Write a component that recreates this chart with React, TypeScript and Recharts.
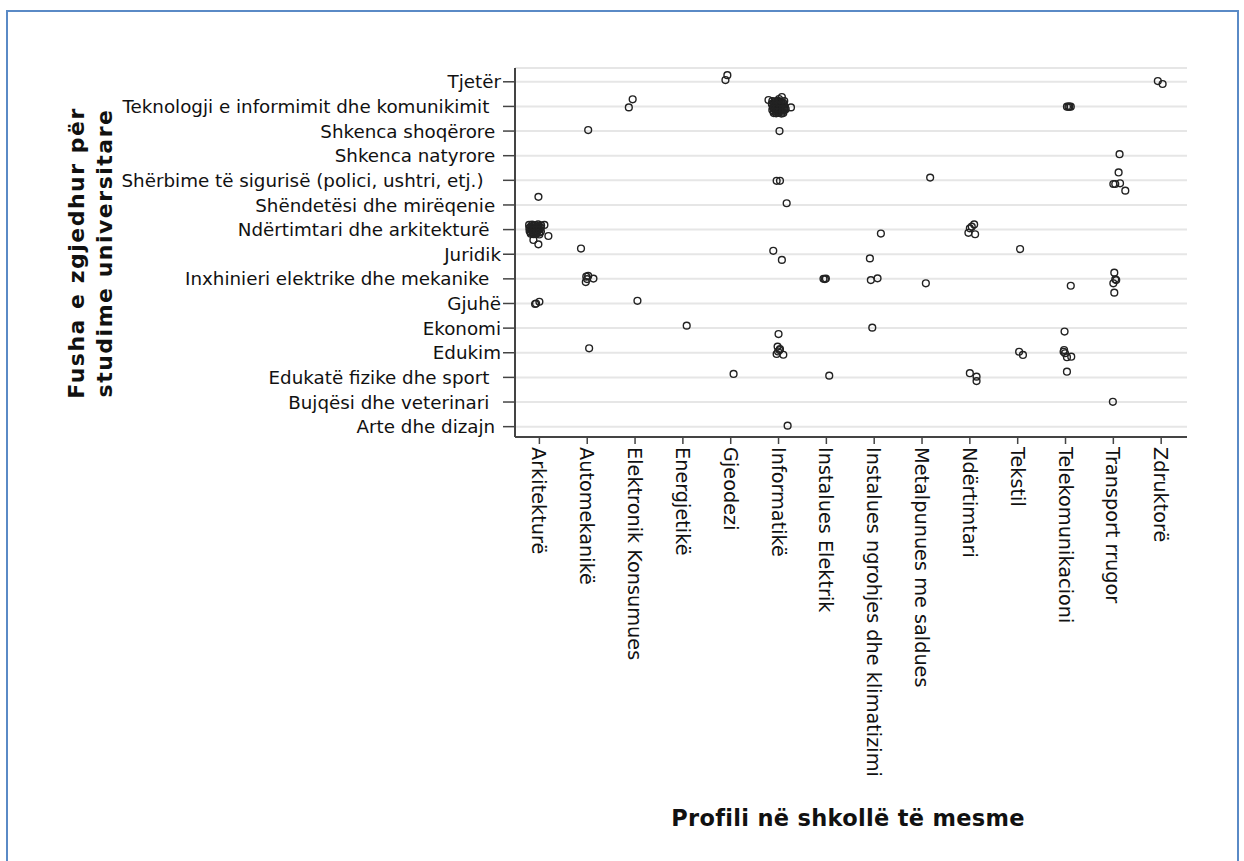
import React from "react";
import { ScatterChart, Scatter, XAxis, YAxis, CartesianGrid } from "recharts";

// Categories
const profiles = [
  "Arkitekturë",
  "Automekanikë",
  "Elektronik Konsumues",
  "Energjetikë",
  "Gjeodezi",
  "Informatikë",
  "Instalues Elektrik",
  "Instalues ngrohjes dhe klimatizimi",
  "Metalpunues me saldues",
  "Ndërtimtari",
  "Tekstil",
  "Telekomunikacioni",
  "Transport rrugor",
  "Zdruktorë",
];

const fields = [
  "Arte dhe dizajn ",
  "Bujqësi dhe veterinari  ",
  "Edukatë fizike dhe sport  ",
  "Edukim",
  "Ekonomi",
  "Gjuhë",
  "Inxhinieri elektrike dhe mekanike  ",
  "Juridik",
  "Ndërtimtari dhe arkitekturë  ",
  "Shëndetësi dhe mirëqenie ",
  "Shërbime të sigurisë (polici, ushtri, etj.)   ",
  "Shkenca natyrore ",
  "Shkenca shoqërore ",
  "Teknologji e informimit dhe komunikimit  ",
  "Tjetër",
];

const xTitle = "Profili në shkollë të mesme";
const yTitleLines = ["Fusha e zgjedhur për", "studime universitare"];

// Jittered observations: [profile value, field value]
const arkitekture = [
  [-0.02, 9.33],
  [-0.215, 8.19], [-0.152, 8.2], [-0.09, 8.18], [-0.027, 8.21], [0.036, 8.17],
  [-0.21, 8.06], [-0.15, 8.05], [-0.088, 8.07], [-0.03, 8.04], [0.03, 8.08],
  [-0.205, 7.94], [-0.155, 7.95], [-0.092, 7.93], [-0.025, 7.96], [0.032, 7.92],
  [-0.18, 7.83], [-0.12, 7.81], [-0.06, 7.84], [0.0, 7.8],
  [-0.184, 8.12], [-0.121, 8.13], [-0.059, 8.11], [0.004, 8.12],
  [-0.184, 8.0], [-0.121, 7.99], [-0.059, 8.01], [0.004, 8.0],
  [-0.184, 7.88], [-0.121, 7.87], [-0.059, 7.89], [0.004, 7.88],
  [0.105, 8.19], [0.188, 7.74], [-0.021, 7.4], [-0.125, 7.58],
  [-0.09, 4.98], [-0.07, 5.0], [0.0, 5.07],
];
const automekanike = [
  [1.02, 12.04], [0.87, 7.23],
  [0.98, 6.09], [1.02, 6.12], [1.13, 6.01], [0.97, 5.87], [0.997, 5.99],
  [1.04, 3.18],
];
const elektronikKonsumues = [[1.95, 13.29], [1.87, 12.96], [2.05, 5.11]];
const energjetike = [[3.08, 4.1]];
const gjeodezi = [[3.93, 14.27], [3.89, 14.07], [4.06, 2.14]];
const informatike = [
  [4.79, 13.26], [5.07, 13.38], [5.26, 12.96],
  [4.87, 13.22], [4.93, 13.21], [4.99, 13.23], [5.05, 13.2], [5.12, 13.22],
  [4.86, 13.1], [4.94, 13.11], [4.98, 13.09], [5.06, 13.12], [5.11, 13.1],
  [4.88, 12.97], [4.92, 12.98], [5.0, 12.96], [5.04, 12.99], [5.13, 12.97],
  [4.87, 12.85], [4.94, 12.86], [4.99, 12.84], [5.05, 12.87], [5.12, 12.85],
  [4.9, 12.73], [4.95, 12.72], [5.0, 12.74], [5.06, 12.71], [5.1, 12.73],
  [4.9, 13.16], [4.96, 13.17], [5.02, 13.15], [5.09, 13.16],
  [4.9, 13.04], [4.96, 13.03], [5.02, 13.05], [5.09, 13.04],
  [4.9, 12.91], [4.96, 12.92], [5.02, 12.9], [5.09, 12.91],
  [4.9, 12.79], [4.96, 12.78], [5.02, 12.8], [5.09, 12.79],
  [5.15, 12.89], [5.01, 13.3],
  [5.02, 12.0],
  [4.96, 9.98], [5.03, 9.98],
  [5.17, 9.07],
  [4.89, 7.14], [5.07, 6.77],
  [5.0, 3.76],
  [4.98, 3.25], [5.03, 3.15], [4.96, 2.95], [5.1, 2.92], [5.02, 3.11], [4.99, 3.05],
  [5.19, 0.04],
];
const instaluesElektrik = [[5.94, 6.0], [5.97, 5.99], [5.99, 6.01], [6.06, 2.07]];
const instaluesNgrohjes = [[7.14, 7.84], [6.91, 6.83], [6.93, 5.95], [7.07, 6.02], [6.96, 4.02]];
const metalpunues = [[8.17, 10.11], [8.08, 5.82]];
const ndertimtari = [
  [9.09, 8.21], [9.0, 8.05], [8.97, 7.87], [9.11, 7.81], [9.04, 8.12],
  [9.0, 2.17], [9.14, 2.03], [9.14, 1.85],
];
const tekstil = [[10.05, 7.21], [10.03, 3.04], [10.11, 2.91]];
const telekomunikacioni = [
  [11.03, 12.99], [11.06, 12.99], [11.08, 12.99], [11.11, 12.99],
  [11.11, 5.72], [10.98, 3.86],
  [10.97, 3.11], [10.99, 2.98], [11.03, 2.82], [11.12, 2.84], [10.96, 3.04],
  [11.03, 2.23],
];
const transportRrugor = [
  [12.13, 11.06],
  [12.11, 10.32], [12.0, 9.85], [12.04, 9.85], [12.14, 9.88], [12.25, 9.58],
  [12.02, 6.25], [12.04, 5.98], [12.0, 5.82], [12.02, 5.44], [12.06, 5.95],
  [11.99, 1.01],
];
const zdruktore = [[12.93, 14.03], [13.03, 13.91]];

const groups = [
  arkitekture, automekanike, elektronikKonsumues, energjetike, gjeodezi,
  informatike, instaluesElektrik, instaluesNgrohjes, metalpunues, ndertimtari,
  tekstil, telekomunikacioni, transportRrugor, zdruktore,
];

const data = groups.flatMap((g) => g.map(([x, y]) => ({ x, y })));
const xTicks = profiles.map((_, i) => i);
const yTicks = fields.map((_, i) => i);

const FONT = "'DejaVu Sans', sans-serif";
const AXIS = "#444";

const XTick = (props: any) => {
  const { x, y, payload } = props;
  return (
    <text
      x={x}
      y={y}
      transform={`rotate(90, ${x}, ${y})`}
      textAnchor="start"
      dy="0.36em"
      fontFamily={FONT}
      fontSize={19.3}
      fill="#111"
    >
      {profiles[payload.value]}
    </text>
  );
};

const YTick = (props: any) => {
  const { x, y, payload } = props;
  return (
    <text
      x={x}
      y={y}
      textAnchor="end"
      dy="0.36em"
      fontFamily={FONT}
      fontSize={18.3}
      fill="#111"
      xmlSpace="preserve"
      style={{ whiteSpace: "pre" }}
    >
      {fields[payload.value]}
    </text>
  );
};

const Ring = (props: any) => {
  const { cx, cy } = props;
  return <circle cx={cx} cy={cy} r={3.4} fill="none" stroke="#222" strokeWidth={1.4} />;
};

export default function App() {
  return (
    <div
      style={{
        position: "fixed",
        left: 0,
        top: 0,
        width: 1244,
        height: 861,
        overflow: "hidden",
        background: "#fff",
      }}
    >
      <div
        style={{
          position: "absolute",
          left: 6,
          top: 10,
          width: 1233,
          height: 900,
          border: "2px solid #5a8ac6",
          boxSizing: "border-box",
        }}
      />
      <div style={{ position: "absolute", left: 0, top: 0 }}>
        <ScatterChart
          width={1244}
          height={861}
          margin={{ top: 68, right: 57, bottom: 0, left: 0 }}
        >
          <CartesianGrid
            vertical={false}
            stroke="#e6e6e6"
            strokeWidth={2}
          />
          <XAxis
            type="number"
            dataKey="x"
            domain={[-0.51, 13.54]}
            allowDataOverflow
            ticks={xTicks}
            interval={0}
            height={424}
            tickSize={7}
            tickMargin={3}
            tick={<XTick />}
            axisLine={{ stroke: AXIS, strokeWidth: 2 }}
            tickLine={{ stroke: AXIS, strokeWidth: 1.5 }}
          />
          <YAxis
            type="number"
            dataKey="y"
            domain={[-0.42, 14.56]}
            allowDataOverflow
            ticks={yTicks}
            interval={0}
            width={515}
            tickSize={12}
            tickMargin={2}
            tick={<YTick />}
            axisLine={{ stroke: AXIS, strokeWidth: 2 }}
            tickLine={{ stroke: AXIS, strokeWidth: 1.5 }}
          />
          <Scatter data={data} shape={<Ring />} isAnimationActive={false} />
        </ScatterChart>
      </div>
      <svg
        width={1244}
        height={861}
        style={{ position: "absolute", left: 0, top: 0, pointerEvents: "none" }}
      >
        <text
          x={848}
          y={826}
          textAnchor="middle"
          fontFamily={FONT}
          fontWeight="bold"
          fontSize={22.5}
          letterSpacing={0.3}
          fill="#111"
        >
          {xTitle}
        </text>
        {yTitleLines.map((line, i) => (
          <text
            key={line}
            x={0}
            y={0}
            transform={`translate(${84 + i * 28}, 253) rotate(-90)`}
            textAnchor="middle"
            fontFamily={FONT}
            fontWeight="bold"
            fontSize={22}
            letterSpacing={1.5}
            fill="#111"
          >
            {line}
          </text>
        ))}
      </svg>
    </div>
  );
}
